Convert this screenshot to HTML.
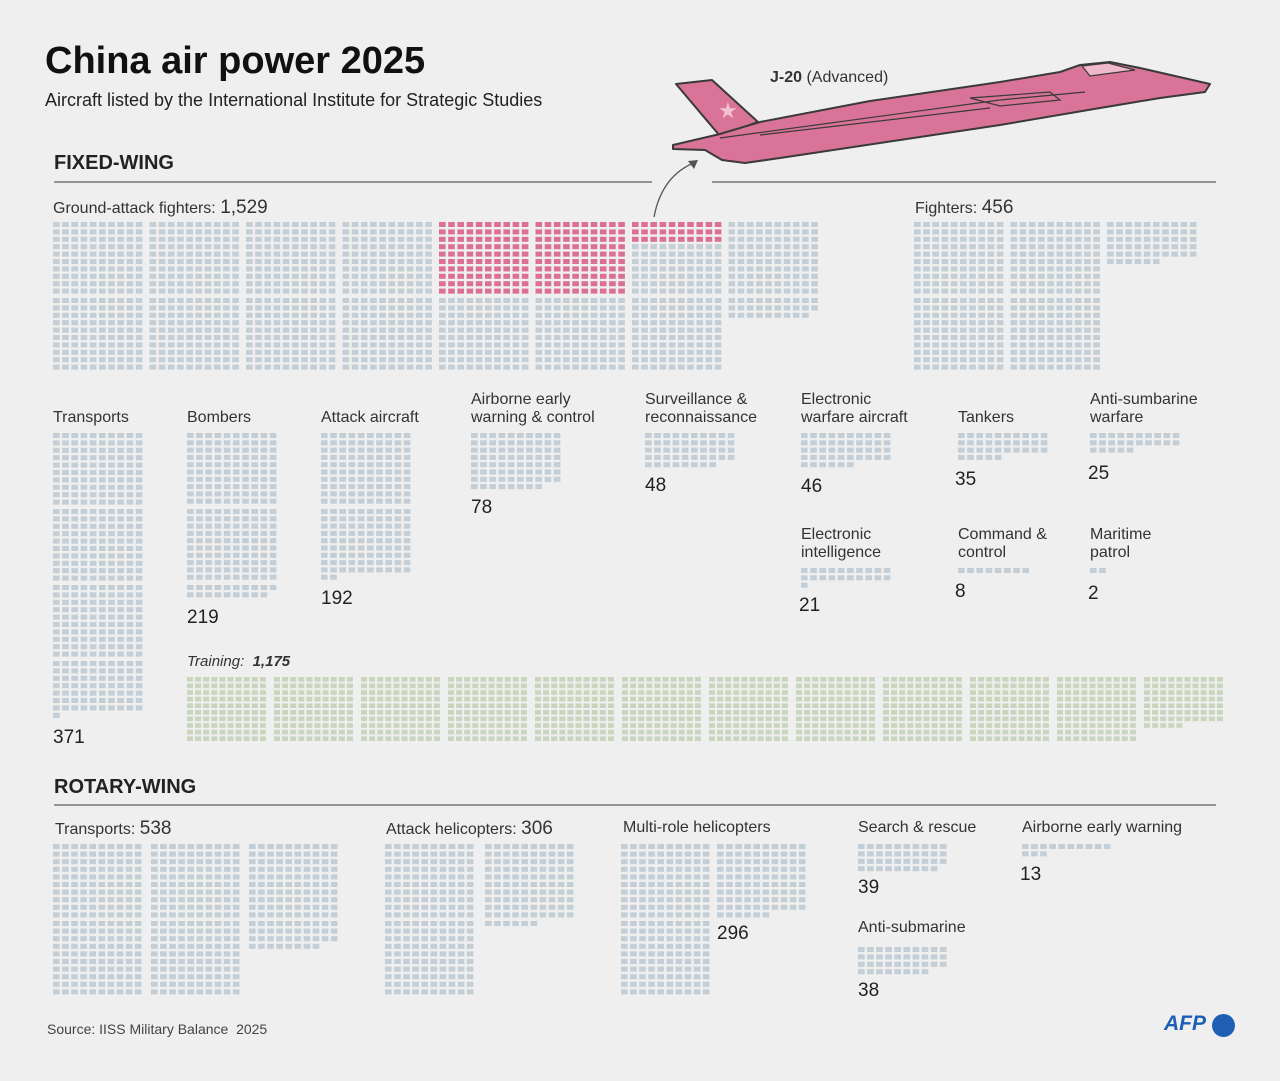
<!DOCTYPE html>
<html><head><meta charset="utf-8"><style>
body{margin:0;background:#efefef;font-family:"Liberation Sans",sans-serif;color:#222}
#w{position:relative;width:1280px;height:1081px;overflow:hidden}
.t{position:absolute;white-space:nowrap;font-size:16px;color:#333}
.n{position:absolute;font-size:19px;color:#222}
svg{position:absolute;left:0;top:0}
</style></head><body><div id="w">
<div class="t" style="left:45px;top:40px;font-size:38px;font-weight:bold;color:#111">China air power 2025</div>
<div class="t" style="left:45px;top:90px;font-size:18px;color:#222">Aircraft listed by the International Institute for Strategic Studies</div>
<div class="t" style="left:54px;top:152px;font-size:20px;font-weight:bold;color:#222">FIXED-WING</div>
<div class="t" style="left:54px;top:776px;font-size:20px;font-weight:bold;color:#222">ROTARY-WING</div>
<div class="t" style="left:770px;top:69px;font-size:16px"><b>J-20</b> (Advanced)</div>
<div class="t" style="left:53px;top:197px">Ground-attack fighters: <span style="font-size:19px">1,529</span></div>
<div class="t" style="left:915px;top:197px">Fighters: <span style="font-size:19px">456</span></div>
<div class="t" style="left:53px;top:409px">Transports</div>
<div class="t" style="left:187px;top:409px">Bombers</div>
<div class="t" style="left:321px;top:409px">Attack aircraft</div>
<div class="t" style="left:471px;top:391px;line-height:18px">Airborne early<br>warning &amp; control</div>
<div class="t" style="left:645px;top:391px;line-height:18px">Surveillance &amp;<br>reconnaissance</div>
<div class="t" style="left:801px;top:391px;line-height:18px">Electronic<br>warfare aircraft</div>
<div class="t" style="left:958px;top:409px">Tankers</div>
<div class="t" style="left:1090px;top:391px;line-height:18px">Anti-sumbarine<br>warfare</div>
<div class="t" style="left:801px;top:526px;line-height:18px">Electronic<br>intelligence</div>
<div class="t" style="left:958px;top:526px;line-height:18px">Command &amp;<br>control</div>
<div class="t" style="left:1090px;top:526px;line-height:18px">Maritime<br>patrol</div>
<div class="t" style="left:187px;top:653px;font-style:italic;font-size:15px">Training: &nbsp;<b>1,175</b></div>
<div class="n" style="left:53px;top:727px">371</div>
<div class="n" style="left:187px;top:607px">219</div>
<div class="n" style="left:321px;top:588px">192</div>
<div class="n" style="left:471px;top:497px">78</div>
<div class="n" style="left:645px;top:475px">48</div>
<div class="n" style="left:801px;top:476px">46</div>
<div class="n" style="left:955px;top:469px">35</div>
<div class="n" style="left:1088px;top:463px">25</div>
<div class="n" style="left:799px;top:595px">21</div>
<div class="n" style="left:955px;top:581px">8</div>
<div class="n" style="left:1088px;top:583px">2</div>
<div class="t" style="left:55px;top:818px">Transports: <span style="font-size:19px">538</span></div>
<div class="t" style="left:386px;top:818px">Attack helicopters: <span style="font-size:19px">306</span></div>
<div class="t" style="left:623px;top:819px">Multi-role helicopters</div>
<div class="t" style="left:858px;top:819px">Search &amp; rescue</div>
<div class="t" style="left:1022px;top:819px">Airborne early warning</div>
<div class="t" style="left:858px;top:919px">Anti-submarine</div>
<div class="n" style="left:717px;top:923px">296</div>
<div class="n" style="left:858px;top:877px">39</div>
<div class="n" style="left:858px;top:980px">38</div>
<div class="n" style="left:1020px;top:864px">13</div>
<div class="t" style="left:47px;top:1021px;font-size:14px;color:#444">Source: IISS Military Balance &nbsp;2025</div>
<div class="t" style="left:1164px;top:1012px;font-size:21px;font-weight:bold;font-style:italic;color:#1e5fb4">AFP</div>
<div style="position:absolute;left:1212px;top:1014px;width:23px;height:23px;border-radius:50%;background:#1e5fb4"></div>
<svg id="s" width="1280" height="1081">
<line x1="54" y1="182" x2="652" y2="182" stroke="#777" stroke-width="1.5"/>
<line x1="712" y1="182" x2="1216" y2="182" stroke="#777" stroke-width="1.5"/>
<line x1="54" y1="805" x2="1216" y2="805" stroke="#777" stroke-width="1.5"/>
<path d="M654 217 Q662 175 696 162" fill="none" stroke="#555" stroke-width="1.3"/>
<polygon points="698,160 688,161 694,169" fill="#555"/>
<polygon points="676,84 712,80 758,122 720,136" fill="#d97398" stroke="#3a3a3a" stroke-width="2" stroke-linejoin="round"/>
<polygon points="673,145 720,134 760,122 870,101 1000,82 1060,72 1080,65 1110,62 1140,68 1210,84 1205,92 1160,98 1130,103 1100,108 1000,125 900,140 780,158 745,163 722,160 705,150 673,149" fill="#d97398" stroke="#3a3a3a" stroke-width="2" stroke-linejoin="round"/>
<polygon points="1082,66 1108,63 1135,70 1090,76" fill="#f0b8cb" stroke="#3a3a3a" stroke-width="1.2"/>
<path d="M720 138 L1000 100 L1085 92 M760 135 L990 108" stroke="#3a3a3a" stroke-width="1.2" fill="none"/>
<polygon points="970,98 1050,92 1060,100 1000,106" fill="none" stroke="#3a3a3a" stroke-width="1.2"/>
<text x="718" y="118" font-size="22" fill="#f3c0d2" font-family="DejaVu Sans">★</text>
</svg>
</div>
<script>
const s=document.getElementById('s');
const G='#c3ced6',P='#dc6f96',T='#c9d6bd';
function cell(x,y,w,h,c){const r=document.createElementNS('http://www.w3.org/2000/svg','rect');r.setAttribute('x',x);r.setAttribute('y',y);r.setAttribute('width',w);r.setAttribute('height',h);r.setAttribute('fill',c);s.appendChild(r);}
// grid: columns of blocks stacked vertically (perCol blocks), fill row-major
function grid(o){const{x,y,n,px=9.2,py=7.4,cw=6.6,ch=5,bw=96.5,bh=76,perCol=2,color=G,colorFn}=o;
 let i=0;const per=perCol*100;
 for(let k=0;k<n;k++){const col=Math.floor(k/per),rem=k%per,blk=Math.floor(rem/100),r=rem%100,row=Math.floor(r/10),c=r%10;
  const cx=x+col*bw+c*px,cy=y+blk*bh+row*py;
  cell(cx,cy,cw,ch,colorFn?colorFn(col,blk,row):color);}
}
grid({x:53,y:222,n:1529,colorFn:(col,b,row)=>(b==0&&(col==4||col==5||(col==6&&row<3)))?P:G});
grid({x:914,y:222,n:456});
grid({x:53,y:433,n:371,perCol:99});
grid({x:187,y:433,n:219,perCol:99,py:7.3});
grid({x:321,y:433,n:192,perCol:99,py:7.3});
grid({x:471,y:433,n:78,py:7.3});
grid({x:645,y:433,n:48,py:7.3});
grid({x:801,y:433,n:46,py:7.3});
grid({x:958,y:433,n:35,py:7.3});
grid({x:1090,y:433,n:25,py:7.3});
grid({x:801,y:568,n:21,py:7.3});
grid({x:958,y:568,n:8,py:7.3});
grid({x:1090,y:568,n:2,py:7.3});
grid({x:187,y:677,n:1175,perCol:1,bw:87,px:8.1,py:6.6,cw:6,ch:4.6,color:T});
grid({x:53,y:844,n:538,bw:98,px:9.1,py:7.6,bh:77});
grid({x:385,y:844,n:306,bw:100,px:9.1,py:7.6,bh:77});
grid({x:621,y:844,n:296,bw:96,px:9.1,py:7.6,bh:77});
grid({x:858,y:844,n:39,px:9.1});
grid({x:858,y:947,n:38,px:9.1});
grid({x:1022,y:844,n:13,px:9.1});
</script>
</body></html>
